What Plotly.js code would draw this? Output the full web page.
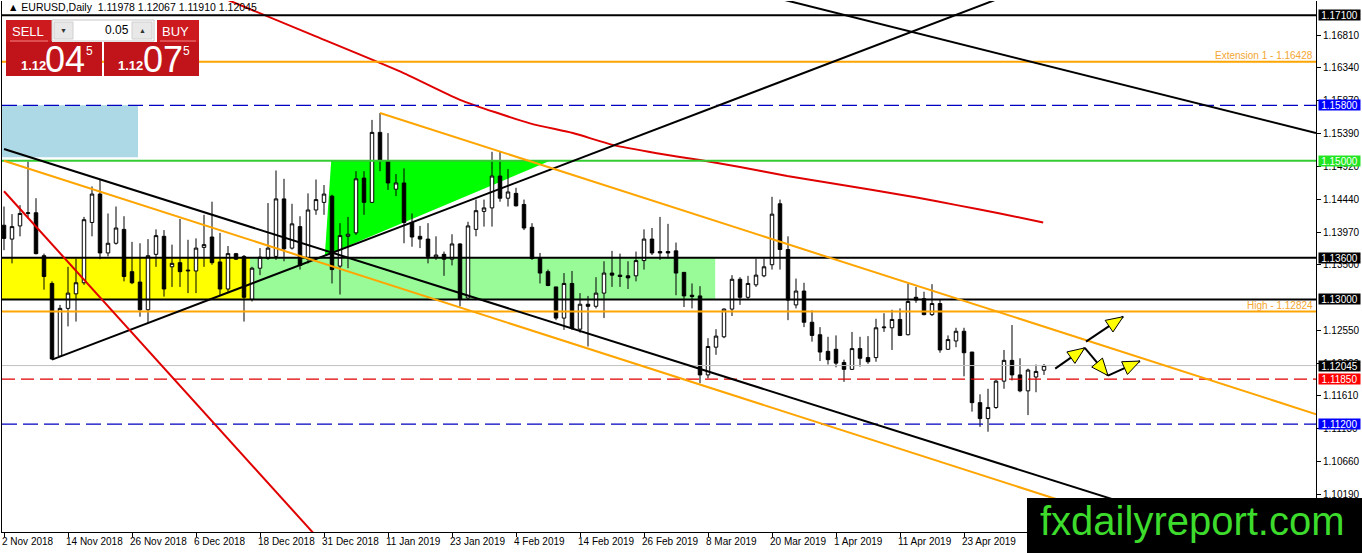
<!DOCTYPE html>
<html><head><meta charset="utf-8">
<script src="https://cdn.plot.ly/plotly-3.0.1.min.js"></script>
<style>html,body{margin:0;padding:0;background:#fff;overflow:hidden}#chart{width:1362px;height:553px}</style>
</head><body><div id="chart"></div>
<script>
// ---------- DATA ----------
const xTickIdx = [0,8,16,24,32,40,48,56,64,72,80,88,96,104,112,120];
const xTickText = ["2 Nov 2018","14 Nov 2018","26 Nov 2018","6 Dec 2018","18 Dec 2018","31 Dec 2018","11 Jan 2019","23 Jan 2019","4 Feb 2019","14 Feb 2019","26 Feb 2019","8 Mar 2019","20 Mar 2019","1 Apr 2019","11 Apr 2019","23 Apr 2019"];

const openP = [1.1407,1.1387,1.1406,1.1424,1.1425,1.1363,1.1323,1.1218,1.1287,1.1308,
1.1324,1.1411,1.1452,1.1367,1.1381,1.1401,1.1340,1.1325,1.1285,1.1365,
1.1391,1.1347,1.1353,1.1341,1.1341,1.1375,1.1390,1.1354,1.1315,1.1366,
1.1362,1.1300,1.1345,1.1359,1.1362,1.1445,1.1374,1.1405,1.1358,1.1429,
1.1440,1.1449,1.1348,1.1391,1.1396,1.1475,1.1440,1.1541,1.1500,1.1459,
1.1468,1.1411,1.1391,1.1387,1.1361,1.1365,1.1358,1.1380,1.1302,1.1401,
1.1427,1.1432,1.1478,1.1446,1.1453,1.1437,1.1404,1.1359,1.1340,1.1318,
1.1273,1.1323,1.1257,1.1293,1.1290,1.1309,1.1338,1.1335,1.1334,1.1334,
1.1356,1.1387,1.1369,1.1369,1.1370,1.1339,1.1306,1.1305,1.1191,1.1231,
1.1246,1.1286,1.1329,1.1303,1.1321,1.1334,1.1350,1.1438,1.1372,1.1292,
1.1312,1.1267,1.1249,1.1225,1.1228,1.1209,1.1199,1.1229,1.1216,1.1216,
1.1259,1.1259,1.1271,1.1249,1.1303,1.1301,1.1278,1.1294,1.1228,1.1240,
1.1254,1.1224,1.1151,1.1128,1.1144,1.1182,1.1212,1.1191,1.1168,1.1188,
1.11978];
const highP = [1.1434,1.1423,1.1436,1.1499,1.1446,1.1366,1.1326,1.1292,1.1347,1.1359,
1.1419,1.1463,1.1473,1.1424,1.1434,1.1420,1.1383,1.1381,1.1387,1.1401,
1.1400,1.1379,1.1416,1.1386,1.1388,1.1422,1.1441,1.1396,1.1377,1.1367,
1.1364,1.1347,1.1374,1.1439,1.1486,1.1474,1.1438,1.1420,1.1453,1.1473,
1.1465,1.1451,1.1410,1.1419,1.1485,1.1485,1.1559,1.1569,1.1540,1.1481,
1.1489,1.1424,1.1406,1.1410,1.1391,1.1369,1.1394,1.1381,1.1412,1.1444,
1.1444,1.1513,1.1513,1.1488,1.1461,1.1444,1.1410,1.1367,1.1343,1.1318,
1.1338,1.1341,1.1309,1.1305,1.1332,1.1355,1.1370,1.1366,1.1355,1.1369,
1.1401,1.1403,1.1419,1.1409,1.1382,1.1339,1.1323,1.1319,1.1244,1.1257,
1.1287,1.1335,1.1332,1.1334,1.1359,1.1359,1.1448,1.1444,1.1391,1.1330,
1.1324,1.1284,1.1260,1.1246,1.1248,1.1213,1.1253,1.1246,1.1247,1.1272,
1.1280,1.1285,1.1287,1.1323,1.1318,1.1311,1.1322,1.1300,1.1248,1.1259,
1.1259,1.1224,1.1163,1.1171,1.1184,1.1227,1.1263,1.1215,1.1200,1.1206,
1.12067];
const lowP = [1.1371,1.1352,1.1391,1.1417,1.1365,1.1314,1.1213,1.1217,1.1261,1.1268,
1.1321,1.1391,1.1358,1.1362,1.1379,1.1326,1.1322,1.1275,1.1266,1.1347,
1.1304,1.1318,1.1318,1.1309,1.1309,1.1347,1.1350,1.1306,1.1311,1.1357,
1.1268,1.1297,1.1335,1.1357,1.1357,1.1355,1.1372,1.1343,1.1352,1.1422,
1.1422,1.1323,1.1307,1.1345,1.1393,1.1422,1.1439,1.1485,1.1458,1.1449,
1.1381,1.1376,1.1374,1.1352,1.1357,1.1334,1.1349,1.1290,1.1299,1.1391,
1.1405,1.1405,1.1441,1.1434,1.1434,1.1400,1.1357,1.1323,1.1319,1.1270,
1.1256,1.1256,1.1252,1.1232,1.1287,1.1273,1.1318,1.1318,1.1315,1.1326,
1.1343,1.1364,1.1357,1.1359,1.1306,1.1289,1.1287,1.1179,1.1186,1.1220,
1.1244,1.1276,1.1292,1.1300,1.1318,1.1332,1.1343,1.1343,1.1270,1.1287,
1.1260,1.1239,1.1211,1.1206,1.1202,1.1181,1.1198,1.1203,1.1207,1.1210,
1.1253,1.1227,1.1247,1.1248,1.1295,1.1277,1.1276,1.1223,1.1227,1.1231,
1.1189,1.1138,1.1116,1.1109,1.1142,1.1171,1.1183,1.1166,1.1133,1.1166,
1.11910];
const closeP = [1.1388,1.1405,1.1424,1.1425,1.1366,1.1333,1.1214,1.1287,1.1309,1.1324,
1.1415,1.1452,1.1367,1.1381,1.1403,1.1333,1.1324,1.1285,1.1363,1.1392,
1.1315,1.1352,1.1340,1.1342,1.1374,1.1379,1.1353,1.1315,1.1366,1.1358,
1.1303,1.1345,1.1361,1.1374,1.1445,1.1373,1.1409,1.1349,1.1429,1.1444,
1.1452,1.1343,1.1392,1.1394,1.1474,1.1440,1.1541,1.1501,1.1468,1.1468,
1.1411,1.1390,1.1387,1.1362,1.1364,1.1358,1.1380,1.1300,1.1406,1.1428,
1.1432,1.1478,1.1446,1.1455,1.1435,1.1403,1.1359,1.1338,1.1320,1.1273,
1.1323,1.1258,1.1293,1.1290,1.1309,1.1338,1.1335,1.1333,1.1331,1.1356,
1.1387,1.1367,1.1367,1.1367,1.1338,1.1305,1.1304,1.1191,1.1232,1.1247,
1.1286,1.1329,1.1303,1.1323,1.1335,1.1347,1.1423,1.1372,1.1299,1.1312,
1.1267,1.1248,1.1224,1.1213,1.1208,1.1199,1.1229,1.1215,1.1210,1.1259,
1.1260,1.1271,1.1248,1.1297,1.1299,1.1278,1.1294,1.1227,1.1242,1.1254,
1.1223,1.1151,1.1128,1.1144,1.1182,1.1212,1.1191,1.1168,1.1198,1.1196,
1.12045];

const yTickVals = [1.16810,1.16340,1.15870,1.15390,1.14920,1.14440,1.13970,1.13500,1.12550,1.12080,1.11610,1.11130,1.10660,1.10190];

// horizontal levels
const levelPrices = [1.17100,1.16428,1.15800,1.15000,1.13600,1.13000,1.12824,1.12045,1.11850,1.11200];
const levelTexts  = ["","Extension 1 - 1.16428","","","","","High - 1.12824","","",""];

// moving average (read at selected bars)
const maBar = [28,38.9,49.5,57,65.75,71.1,76.1,81.6,87,92,97.9,103.25,108.6,114.1,119.1,124.5,129.9];
const maVal = [1.1732,1.1680,1.1629,1.1588,1.1554,1.1540,1.1523,1.1511,1.1501,1.1491,1.1478,1.1468,1.1458,1.1447,1.1436,1.1424,1.1411];

// trend lines [bar, price] anchors
const upTrend      = [[6,1.1213],[130,1.1759]];
const blackChannel = [[0,1.1517],[170,1.0897]];
const orangeLower  = [[0,1.1500],[170,1.0869]];
const orangeUpper  = [[47,1.1569],[170,1.1112]];
const blackUpper   = [[90,1.1754],[164,1.1540]];
const redSteep     = [[0,1.1456],[45,1.0882]];

// zones [barFrom, barTo, priceLow, priceHigh]
const blueZone   = [-1,16.75,1.1505,1.1580];
const yellowZone = [-1,30.75,1.1300,1.1360];
const greenZone  = [30.75,88.9,1.1300,1.1360];
const triangle   = [[40.9,1.1500],[68.25,1.1500],[40.1,1.1363]];

// projected path arrows
const arrowSegs = [
  [[131.4,1.1200],[135.1,1.1230]],
  [[135.25,1.1239],[139.9,1.1275]],
  [[135.1,1.1230],[138.0,1.1190]],
  [[138.0,1.1190],[142.0,1.1211]]
];

// ---------- LAYOUT GEOMETRY ----------
const W = 1362, H = 553;
const PL = 2, PR = 1316, PT = 1, PB = 532;
const xRange = [-0.25, 164.0];
const yRange = [1.09643, 1.17306];
const xp = px => (px - PL) / (PR - PL);
const yp = py => (PB - py) / (PB - PT);
const FONT = "Liberation Sans, Arial, sans-serif";

const barIdx = openP.map((_, i) => i);

const shapes = [];
const annotations = [];

function zone(z, color) {
  shapes.push({type:'rect', xref:'x', yref:'y', x0:z[0], x1:z[1], y0:z[2], y1:z[3],
    fillcolor:color, line:{width:0}, layer:'below'});
}
zone(blueZone, '#add8e6');
zone(yellowZone, '#ffff00');
zone(greenZone, '#98fb98');
shapes.push({type:'path', xref:'x', yref:'y', layer:'below', fillcolor:'#00ff00', line:{width:0},
  path:'M' + triangle.map(p => p[0] + ',' + p[1]).join(' L') + ' Z'});

const levelColor = ['#000000','#ffa500','#0000c0','#33cc33','#000000','#000000','#ffa500','#c0c0c0','#e00000','#0000c0'];
const levelWidth = [2,2,1.2,2,2,2,2,1,1.2,1.2];
const levelDash  = ['solid','solid','15px,6px','solid','solid','solid','solid','solid','13px,6px','15px,6px'];
levelPrices.forEach((p, i) => {
  shapes.push({type:'line', xref:'paper', x0:0, x1:1, yref:'y', y0:p, y1:p,
    line:{color:levelColor[i], width:levelWidth[i], dash:levelDash[i]}, layer:'above'});
  if (levelTexts[i]) {
    annotations.push({xref:'paper', x:1, xanchor:'right', xshift:-1, yref:'y', y:p, yanchor:'bottom', yshift:-1,
      text:levelTexts[i], showarrow:false, font:{family:FONT, size:10, color:'#f4a630'}});
  }
});

function tline(a, color, width) {
  shapes.push({type:'line', xref:'x', yref:'y', x0:a[0][0], y0:a[0][1], x1:a[1][0], y1:a[1][1],
    line:{color:color, width:width}, layer:'above'});
}
tline(upTrend, '#000000', 2);
tline(blackChannel, '#000000', 2);
tline(orangeLower, '#ffa500', 2);
tline(orangeUpper, '#ffa500', 2);
tline(blackUpper, '#000000', 2);
tline(redSteep, '#e00000', 2);

const kx = (PR - PL) / (xRange[1] - xRange[0]);
const ky = (PB - PT) / (yRange[1] - yRange[0]);
arrowSegs.forEach(seg => {
  const [a, b] = seg;
  shapes.push({type:'line', xref:'x', yref:'y', x0:a[0], y0:a[1], x1:b[0], y1:b[1],
    line:{color:'#000000', width:2}, layer:'above'});
  const dx = (b[0] - a[0]) * kx, dy = -(b[1] - a[1]) * ky;
  const len = Math.hypot(dx, dy), ux = dx / len, uy = dy / len;
  const L = 17, Wd = 7;
  const bx = -ux * L, by = -uy * L;
  const c1 = [bx - uy * Wd, by + ux * Wd], c2 = [bx + uy * Wd, by - ux * Wd];
  const toD = (px, py) => [b[0] + px / kx, b[1] - py / ky];
  const p1 = toD(c1[0], c1[1]), p2 = toD(c2[0], c2[1]);
  shapes.push({type:'path', xref:'x', yref:'y', layer:'above', fillcolor:'#ffff00',
    line:{color:'#000000', width:1},
    path:`M${b[0]},${b[1]} L${p1[0]},${p1[1]} L${p2[0]},${p2[1]} Z`});
});

const boxPrices = [1.17100,1.15800,1.15000,1.13600,1.13000,1.12045,1.11850,1.11200];
const boxColors = ['#000000','#0000ff','#22e622','#000000','#000000','#000000','#ff0000','#0000ff'];
boxPrices.forEach((p, i) => {
  annotations.push({xref:'paper', x:1, xanchor:'left', xshift:2, yref:'y', y:p, yanchor:'middle',
    text:p.toFixed(5), showarrow:false, bgcolor:boxColors[i], borderpad:0, width:41, height:10,
    font:{family:FONT, size:10, color:'#ffffff'}});
});

xTickIdx.forEach((ix, i) => {
  annotations.push({xref:'x', x:ix, xanchor:'left', xshift:-4, yref:'paper', y:yp(541), yanchor:'middle',
    text:xTickText[i], showarrow:false, font:{family:FONT, size:10, color:'#000000'}});
});

annotations.push({xref:'paper', x:xp(6), xanchor:'left', yref:'paper', y:yp(7), yanchor:'middle',
  text:'\u25B2 EURUSD,Daily  1.11978 1.12067 1.11910 1.12045', showarrow:false,
  font:{family:FONT, size:10.5, color:'#000000'}});

function prect(x0, y0, x1, y1, fill, lineColor) {
  shapes.push({type:'rect', xref:'paper', yref:'paper', x0:xp(x0), x1:xp(x1), y0:yp(y1), y1:yp(y0),
    fillcolor:fill, line:{width: lineColor ? 1 : 0, color: lineColor || fill}, layer:'above'});
}
function ptext(cx, cy, txt, size, color, bold) {
  annotations.push({xref:'paper', x:xp(cx), xanchor:'center', yref:'paper', y:yp(cy), yanchor:'middle',
    text: bold ? '<b>' + txt + '</b>' : txt, showarrow:false, font:{family:FONT, size:size, color:color}});
}
prect(6, 20, 52, 42, '#cc1a1f');
prect(52, 20, 154, 41, '#ffffff', '#c8c8c8');
prect(54, 22, 73, 39, '#e8e8e8', '#d0d0d0');
prect(132, 22, 152, 39, '#e8e8e8', '#d0d0d0');
prect(157, 20, 199, 42, '#cc1a1f');
prect(6, 42, 102, 76, '#c0141a');
prect(104, 42, 199, 76, '#c0141a');
shapes.push({type:'line', xref:'paper', yref:'paper', x0:xp(10), x1:xp(48), y0:yp(41), y1:yp(41), line:{color:'#f08080', width:1}, layer:'above'});
shapes.push({type:'line', xref:'paper', yref:'paper', x0:xp(160), x1:xp(196), y0:yp(41), y1:yp(41), line:{color:'#f08080', width:1}, layer:'above'});
ptext(28, 31, 'SELL', 13, '#ffffff');
ptext(175, 31, 'BUY', 13, '#ffffff');
ptext(117, 30, '0.05', 12, '#000000');
ptext(63, 30, '\u25BC', 7, '#333333');
ptext(142, 30, '\u25B2', 7, '#333333');
ptext(33, 65, '1.12', 13, '#ffffff', true);
ptext(65, 59, '04', 36, '#ffffff');
ptext(89, 51, '5', 12, '#ffffff');
ptext(130, 65, '1.12', 13, '#ffffff', true);
ptext(163, 59, '07', 36, '#ffffff');
ptext(186, 51, '5', 12, '#ffffff');

shapes.push({type:'rect', xref:'paper', yref:'paper', x0:xp(1027), x1:xp(1364), y0:yp(555), y1:yp(498),
  fillcolor:'#000000', line:{width:0}, layer:'above'});
annotations.push({xref:'paper', x:xp(1192), xanchor:'center', yref:'paper', y:yp(521), yanchor:'middle',
  text:'fxdailyreport.com', showarrow:false, font:{family:FONT, size:40, color:'#3ddc2c'}});

const candles = {
  type:'candlestick', x:barIdx, open:openP, high:highP, low:lowP, close:closeP,
  increasing:{line:{color:'#000000', width:1}, fillcolor:'#ffffff'},
  decreasing:{line:{color:'#000000', width:1}, fillcolor:'#000000'},
  whiskerwidth:0, hoverinfo:'skip', showlegend:false
};
const ma = {
  type:'scatter', mode:'lines', x:maBar, y:maVal, line:{color:'#e00000', width:2, shape:'spline', smoothing:0.6},
  hoverinfo:'skip', showlegend:false
};

const layout = {
  width:W, height:H, margin:{l:PL, r:W-PR, t:PT, b:H-PB, pad:0},
  paper_bgcolor:'#ffffff', plot_bgcolor:'#ffffff', showlegend:false, hovermode:false,
  boxgap:0.38,
  xaxis:{range:xRange, rangeslider:{visible:false}, showgrid:false, zeroline:false,
    showline:true, linecolor:'#000000', linewidth:1, ticks:'outside', ticklen:4, tickcolor:'#000000',
    tickvals:xTickIdx, showticklabels:false, fixedrange:true},
  yaxis:{range:yRange, side:'right', showgrid:false, zeroline:false, showline:true, mirror:true,
    linecolor:'#000000', linewidth:1, ticks:'outside', ticklen:4, tickcolor:'#000000',
    tickvals:yTickVals, ticktext:yTickVals.map(v => v.toFixed(5)),
    tickfont:{family:FONT, size:10, color:'#000000'}, fixedrange:true},
  shapes:shapes, annotations:annotations
};

Plotly.newPlot('chart', [candles, ma], layout, {staticPlot:true, displayModeBar:false});
</script>
</body></html>
